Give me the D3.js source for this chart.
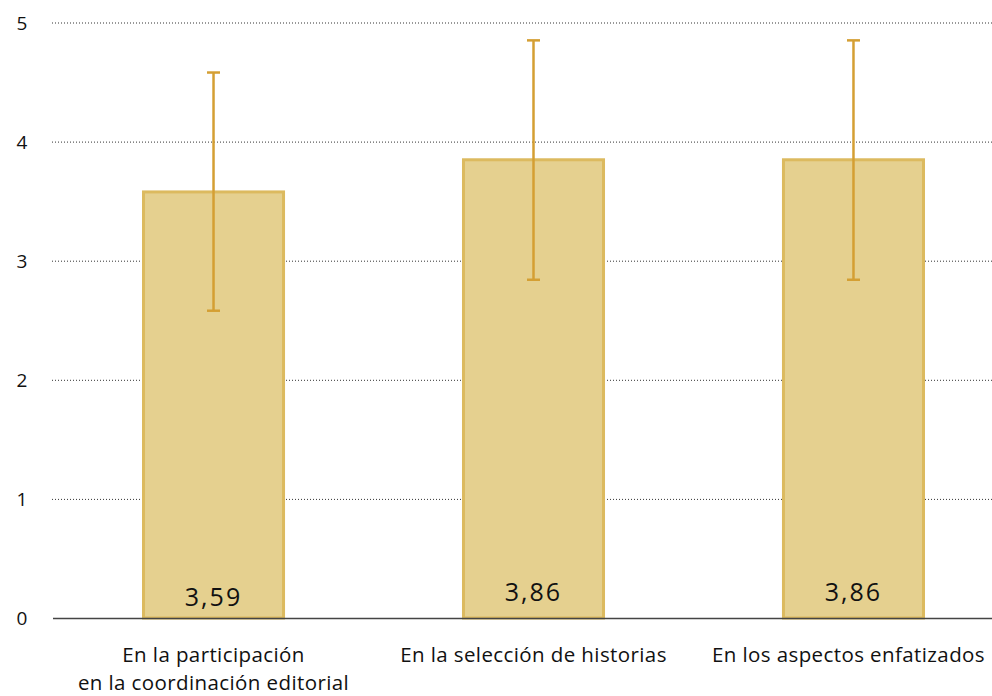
<!DOCTYPE html>
<html><head><meta charset="utf-8">
<script src="https://cdn.jsdelivr.net/npm/d3@7"></script>
<style>body{margin:0;background:#fff;} text{font-family:"Open Sans",sans-serif;}</style>
</head><body><svg id="c" width="992" height="696"></svg>
<script>
const categories = [["En la participación","en la coordinación editorial"],["En la selección de historias"],["En los aspectos enfatizados"]];
const means = [3.59, 3.86, 3.86];
const lows = [2.58, 2.84, 2.84];
const highs = [4.58, 4.85, 4.85];
const valueLabels = ["3,59","3,86","3,86"];
const yTicks = [0,1,2,3,4,5];

const svg = d3.select("#c");
const y = d3.scaleLinear().domain([0,5]).range([618,22.5]);
const x = d3.scaleBand().domain(d3.range(3)).range([53.5,1013.5]).paddingInner(0.553).paddingOuter(0.2766);

// grid
svg.append("g").selectAll("line").data(yTicks.filter(d=>d>0)).join("line")
  .attr("x1",52).attr("x2",992).attr("y1",d=>y(d)+0.5).attr("y2",d=>y(d)+0.5)
  .attr("stroke","#333").attr("stroke-width",1).attr("stroke-dasharray","1,2");
svg.append("g").selectAll("text").data(yTicks).join("text")
  .attr("x",22).attr("y",d=>y(d)+7).attr("text-anchor","middle")
  .attr("font-size",19).attr("fill","#111").text(d=>d);

// bars
const g = svg.append("g");
g.selectAll("rect").data(means).join("rect")
  .attr("x",(d,i)=>x(i)+1.5).attr("width",x.bandwidth()-3)
  .attr("y",d=>y(d)+1.5).attr("height",d=>y(0)-y(d)-1.5)
  .attr("fill","#e5d08f").attr("stroke","#dcba5f").attr("stroke-width",3);

// baseline
svg.append("line").attr("x1",53).attr("x2",992).attr("y1",618.5).attr("y2",618.5).attr("stroke","#444").attr("stroke-width",1.5);

// error bars
const eb = svg.append("g").attr("stroke","#d49f33").attr("stroke-width",2.5);
means.forEach((m,i)=>{
  const cx = x(i)+x.bandwidth()/2;
  eb.append("line").attr("x1",cx).attr("x2",cx).attr("y1",y(highs[i])).attr("y2",y(lows[i]));
  eb.append("line").attr("x1",cx-6.5).attr("x2",cx+6.5).attr("y1",y(highs[i])).attr("y2",y(highs[i]));
  eb.append("line").attr("x1",cx-6.5).attr("x2",cx+6.5).attr("y1",y(lows[i])).attr("y2",y(lows[i]));
});

// value labels
svg.append("g").selectAll("text").data(valueLabels).join("text")
  .attr("x",(d,i)=>x(i)+x.bandwidth()/2).attr("y",(d,i)=>i===0?606:601).attr("text-anchor","middle")
  .attr("font-size",25).attr("letter-spacing",2).attr("fill","#111").text(d=>d);

// category labels
categories.forEach((lines,i)=>{
  const cx = x(i)+x.bandwidth()/2;
  const t = svg.append("text").attr("y",661.5)
    .attr("text-anchor","middle").attr("font-size",20.5).attr("letter-spacing",0.4).attr("fill","#111");
  lines.forEach((l,j)=>t.append("tspan").attr("x",cx).attr("dy",j?28:0).text(l));
  const w = t.node().getBBox().width;
  const cx2 = Math.min(cx, 992 - 7 - w/2);
  t.selectAll("tspan").attr("x",cx2);
});
</script></body></html>
